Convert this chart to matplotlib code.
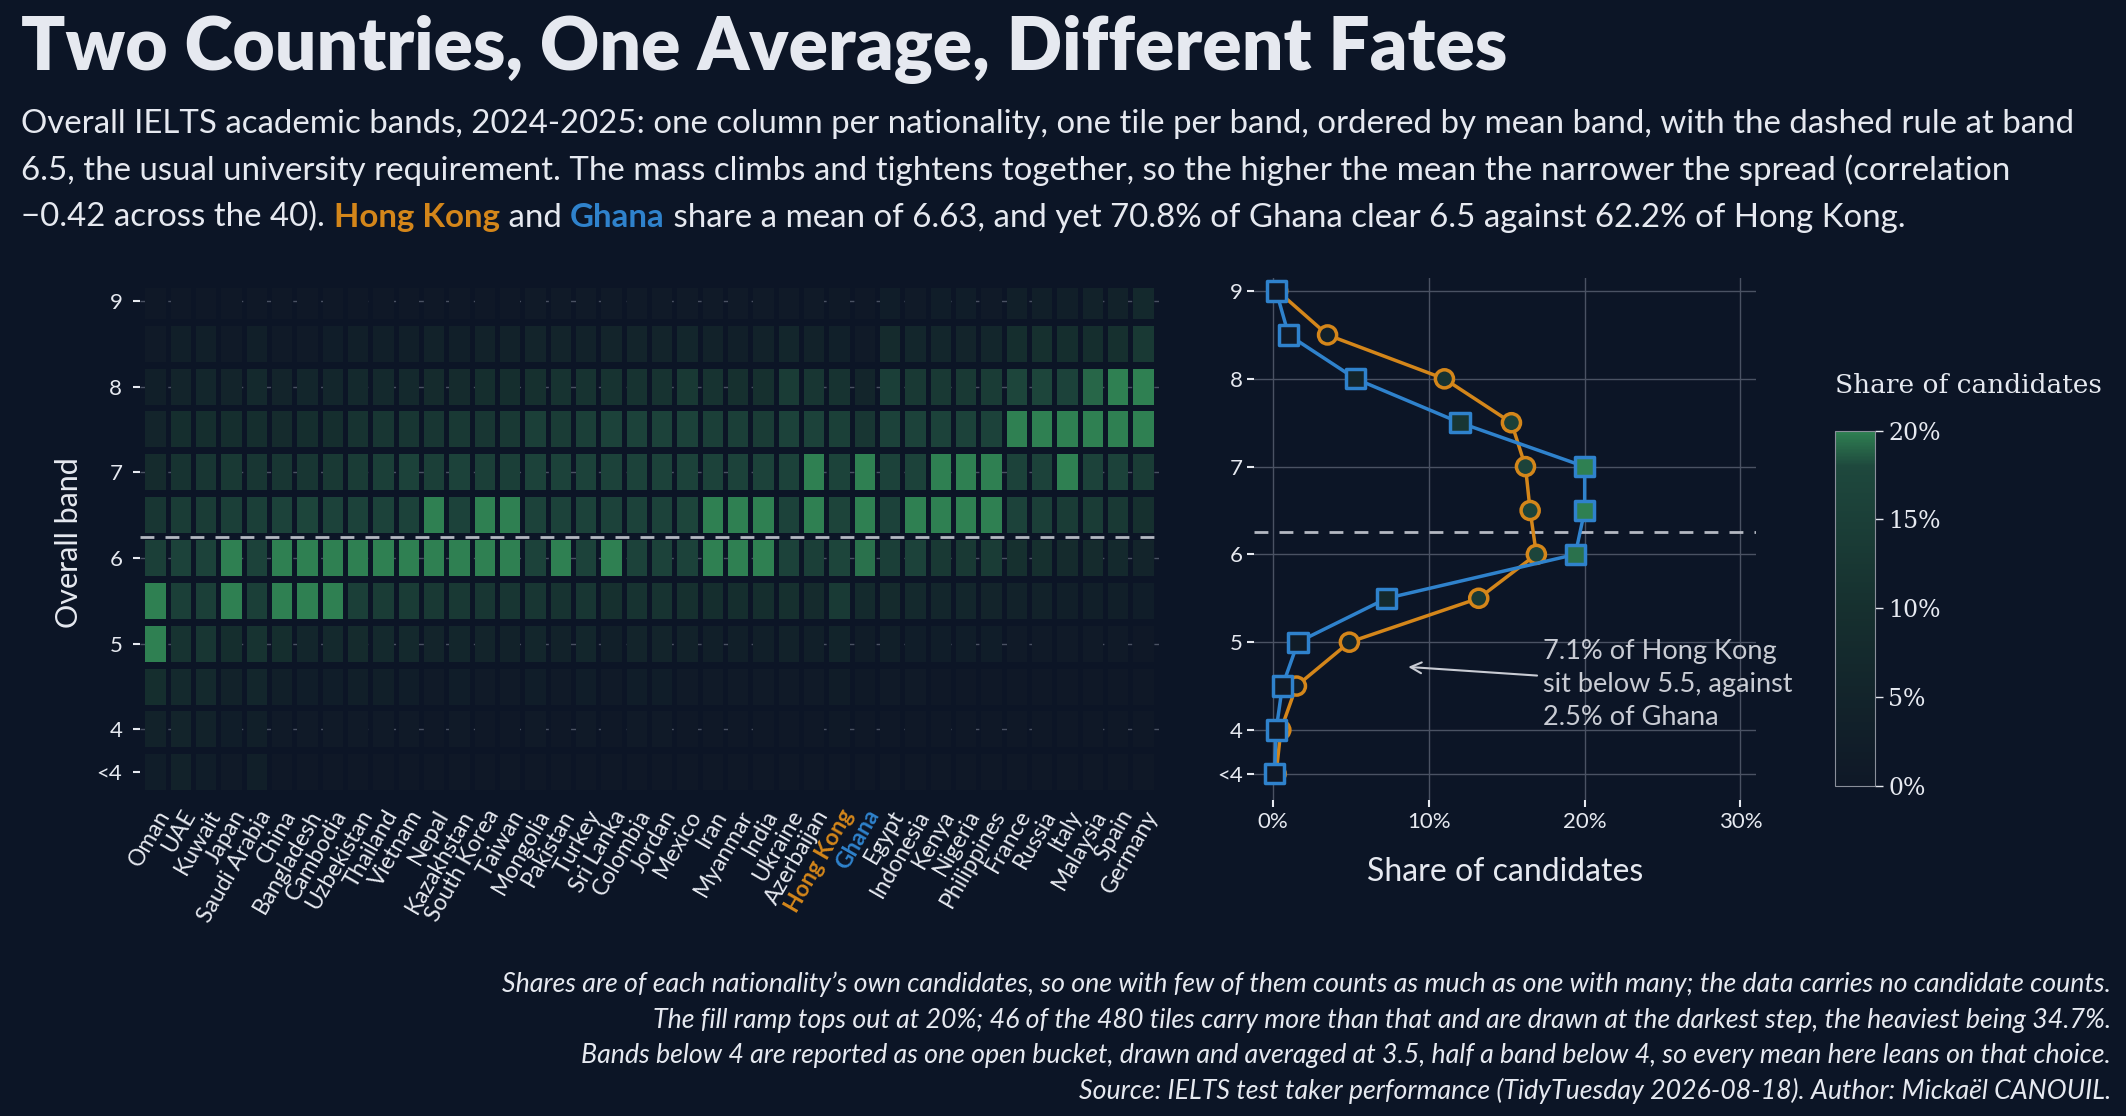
import numpy as np
import matplotlib.pyplot as plt
from matplotlib.colors import LinearSegmentedColormap, Normalize
from matplotlib.cm import ScalarMappable

plt.rcParams['font.family'] = ['Lato', 'DejaVu Sans']

BG = '#0c1526'
FG = '#e6e9f0'
ORANGE = '#d4861a'
BLUE = '#2f82cc'

bands = [3.5, 4, 4.5, 5, 5.5, 6, 6.5, 7, 7.5, 8, 8.5, 9]
countries = ['Oman', 'UAE', 'Kuwait', 'Japan', 'Saudi Arabia', 'China', 'Bangladesh', 'Cambodia',
             'Uzbekistan', 'Thailand', 'Vietnam', 'Nepal', 'Kazakhstan', 'South Korea', 'Taiwan',
             'Mongolia', 'Pakistan', 'Turkey', 'Sri Lanka', 'Colombia', 'Jordan', 'Mexico', 'Iran',
             'Myanmar', 'India', 'Ukraine', 'Azerbaijan', 'Hong Kong', 'Ghana', 'Egypt', 'Indonesia',
             'Kenya', 'Nigeria', 'Philippines', 'France', 'Russia', 'Italy', 'Malaysia', 'Spain', 'Germany']

# share (%) per band, order as in bands
shares = [
    [2, 4, 9, 20, 21, 15, 12, 8, 5, 3, 1, 0],
    [4, 5, 7, 11, 15, 16, 14, 11, 9, 5, 3, 0],
    [2, 4, 7, 12, 15, 16, 14, 12, 9, 6, 3, 0],
    [1, 2, 4, 9, 20, 21, 15, 13, 9, 5, 1, 0],
    [3, 3, 6, 11, 15, 16, 15, 12, 9, 7, 3, 0],
    [0, 1, 3, 9, 21, 24, 16, 12, 8, 5, 1, 0],
    [0, 1, 2, 6, 21, 25, 17, 12, 9, 6, 1, 0],
    [0, 1, 2, 7, 21, 23, 16, 13, 9, 6, 2, 0],
    [0, 1, 3, 8, 15, 22, 16, 14, 11, 7, 3, 0],
    [0, 1, 3, 7, 14, 22, 16, 15, 12, 7, 3, 0],
    [0, 1, 2, 7, 14, 22, 16, 16, 12, 7, 3, 0],
    [0, 0, 1, 5, 13, 21, 21, 15, 12, 8, 4, 0],
    [0, 1, 2, 6, 13, 22, 16, 16, 13, 8, 3, 0],
    [0, 0, 1, 5, 12, 21, 21, 15, 12, 9, 4, 0],
    [0, 0, 1, 4, 12, 21, 21, 15, 13, 9, 4, 0],
    [0, 1, 2, 6, 12, 16, 16, 16, 15, 10, 5, 1],
    [0, 0, 1, 4, 11, 21, 16, 16, 14, 11, 5, 1],
    [0, 1, 2, 6, 12, 16, 16, 16, 15, 11, 4, 1],
    [0, 0, 1, 3, 10, 21, 16, 16, 16, 11, 5, 1],
    [0, 1, 2, 5, 11, 16, 16, 16, 16, 11, 5, 1],
    [0, 1, 2, 5, 11, 16, 16, 16, 16, 11, 5, 1],
    [0, 0, 1, 4, 10, 16, 17, 16, 16, 13, 6, 1],
    [0, 0, 1, 3, 9, 20, 20, 16, 15, 11, 4, 1],
    [0, 0, 1, 3, 9, 21, 21, 16, 15, 10, 3, 1],
    [0, 0, 1, 3, 9, 21, 21, 16, 14, 10, 4, 1],
    [0, 0, 1, 4, 10, 16, 16, 16, 16, 14, 6, 1],
    [0, 0, 1, 3, 8, 15, 20, 20, 16, 12, 4, 1],
    [0.2, 0.5, 1.5, 4.9, 13.2, 16.9, 16.5, 16.2, 15.3, 11.0, 3.5, 0.3],
    [0.1, 0.2, 0.6, 1.6, 7.3, 19.4, 26.2, 26.1, 12.0, 5.3, 1.0, 0.2],
    [0, 0, 1, 3, 8, 15, 16, 16, 16, 15, 8, 2],
    [0, 0, 1, 2, 7, 16, 22, 16, 16, 13, 6, 1],
    [0, 0, 0, 2, 6, 13, 21, 21, 16, 13, 6, 2],
    [0, 0, 0, 2, 6, 13, 21, 22, 16, 13, 5, 2],
    [0, 0, 0, 2, 5, 14, 21, 21, 16, 14, 6, 1],
    [0, 0, 0, 1, 4, 10, 16, 16, 24, 17, 9, 3],
    [0, 0, 0, 1, 4, 10, 15, 16, 24, 17, 10, 3],
    [0, 0, 0, 1, 3, 8, 14, 22, 24, 16, 9, 3],
    [0, 0, 0, 1, 3, 8, 14, 16, 26, 19, 9, 4],
    [0, 0, 0, 1, 3, 7, 13, 16, 26, 20, 10, 4],
    [0, 0, 0, 0, 2, 5, 10, 14, 25, 24, 13, 7],
]

hk = shares[countries.index('Hong Kong')]
gh = shares[countries.index('Ghana')]

cmap = LinearSegmentedColormap.from_list(
    'ramp', [(0, '#0f1827'), (0.5, '#16302f'), (0.9, '#1e483d'), (1, '#2f8052')])
norm = Normalize(0, 20)

fig = plt.figure(figsize=(21.26, 11.16), dpi=100, facecolor=BG)

# ---- heatmap
ax = fig.add_axes([0.066, 0.285, 0.479, 0.457], facecolor=BG)
for i, row in enumerate(shares):
    for b, v in zip(bands, row):
        ax.bar(i, 0.42, bottom=b - 0.21, width=0.8, color=cmap(norm(min(v, 20))), zorder=2)
for t in [4, 5, 6, 7, 8, 9]:
    ax.axhline(t, color='#4a5263', lw=1, ls=(0, (4, 6)), zorder=1)
ax.axhline(6.25, color='#b4b8c2', lw=2, ls=(0, (5, 4)), zorder=3)
ax.set_xlim(-0.6, 39.6)
ax.set_ylim(3.2, 9.15)
ax.set_yticks([3.5, 4, 5, 6, 7, 8, 9])
ax.set_yticklabels(['<4', '4', '5', '6', '7', '8', '9'])
ax.set_xticks(range(len(countries)))
ax.set_xticklabels(countries, rotation=60, ha='right', rotation_mode='anchor')
ax.tick_params(axis='x', colors=FG, labelsize=16.5, length=0, pad=6)
ax.tick_params(axis='y', colors=FG, labelsize=16, length=5, width=1.5, pad=8)
for lab in ax.get_xticklabels():
    if lab.get_text() == 'Hong Kong':
        lab.set_color(ORANGE)
        lab.set_fontweight('bold')
    elif lab.get_text() == 'Ghana':
        lab.set_color(BLUE)
        lab.set_fontweight('bold')
ax.set_ylabel('Overall band', color=FG, fontsize=22, labelpad=10)
for s in ax.spines.values():
    s.set_visible(False)

# ---- profile
ax2 = fig.add_axes([0.590, 0.283, 0.236, 0.468], facecolor=BG)
hk_x = np.minimum(hk, 20) / 100
gh_x = np.minimum(gh, 20) / 100
ax2.plot(hk_x, bands, color=ORANGE, lw=2.5, zorder=3)
ax2.scatter(hk_x, bands, s=170, marker='o', c=[cmap(norm(min(v, 20))) for v in hk],
            edgecolors=ORANGE, linewidths=2.5, zorder=4)
ax2.plot(gh_x, bands, color=BLUE, lw=2.5, zorder=5)
ax2.scatter(gh_x, bands, s=190, marker='s', c=[cmap(norm(min(v, 20))) for v in gh],
            edgecolors=BLUE, linewidths=2.5, zorder=6)
ax2.axhline(6.25, color='#b4b8c2', lw=2, ls=(0, (5, 4)), zorder=2)
ax2.grid(True, color='#4a5263', lw=1, zorder=0)
ax2.set_xlim(-0.012, 0.31)
ax2.set_ylim(3.2, 9.15)
ax2.set_xticks([0, 0.1, 0.2, 0.3])
ax2.set_xticklabels(['0%', '10%', '20%', '30%'])
ax2.set_yticks([3.5, 4, 5, 6, 7, 8, 9])
ax2.set_yticklabels(['<4', '4', '5', '6', '7', '8', '9'])
ax2.tick_params(colors=FG, labelsize=16, length=5, width=1.5)
ax2.set_xlabel('Share of candidates', color=FG, fontsize=23, labelpad=18)
for s in ax2.spines.values():
    s.set_visible(False)
ax2.annotate('7.1% of Hong Kong\nsit below 5.5, against\n2.5% of Ghana',
             xy=(0.085, 4.72), xytext=(0.173, 4.52), color='#c9ccd4', fontsize=19.5,
             va='center', ha='left', linespacing=1.4,
             arrowprops=dict(arrowstyle='->', color='#c9ccd4', lw=1.5, shrinkB=2))

# ---- colorbar
cax = fig.add_axes([0.863, 0.296, 0.019, 0.318])
cb = fig.colorbar(ScalarMappable(norm=norm, cmap=cmap), cax=cax)
cb.set_ticks([0, 5, 10, 15, 20])
cb.set_ticklabels(['0%', '5%', '10%', '15%', '20%'])
cb.outline.set_edgecolor('#8a8f9a')
cax.tick_params(colors=FG, labelsize=17, length=6, width=1)
for lab in cax.get_yticklabels():
    lab.set_family('DejaVu Serif')
fig.text(0.863, 0.643, 'Share of candidates', color=FG, fontsize=19, family='DejaVu Serif',
         ha='left', va='bottom')

# ---- titles
fig.text(0.010, 0.937, 'Two Countries, One Average, Different Fates', color=FG, fontsize=52.6,
         fontweight='heavy', ha='left', va='baseline')
sub_size = 23.8
fig.text(0.010, 0.881, 'Overall IELTS academic bands, 2024-2025: one column per nationality, one tile per band, '
         'ordered by mean band, with the dashed rule at band', color=FG, fontsize=sub_size, va='baseline')
fig.text(0.010, 0.839, '6.5, the usual university requirement. The mass climbs and tightens together, so the higher '
         'the mean the narrower the spread (correlation', color=FG, fontsize=sub_size, va='baseline')
pieces = [('\u22120.42 across the 40). ', FG, 'normal'), ('Hong Kong', ORANGE, 'bold'), (' and ', FG, 'normal'),
          ('Ghana', BLUE, 'bold'),
          (' share a mean of 6.63, and yet 70.8% of Ghana clear 6.5 against 62.2% of Hong Kong.', FG, 'normal')]
renderer = fig.canvas.get_renderer()
x = 0.010
for txt, col, wt in pieces:
    t = fig.text(x, 0.797, txt, color=col, fontsize=sub_size, fontweight=wt, va='baseline')
    bb = t.get_window_extent(renderer=renderer)
    x += bb.width / fig.bbox.width

notes = ['Shares are of each nationality\u2019s own candidates, so one with few of them counts as much as one with many; the data carries no candidate counts.',
         'The fill ramp tops out at 20%; 46 of the 480 tiles carry more than that and are drawn at the darkest step, the heaviest being 34.7%.',
         'Bands below 4 are reported as one open bucket, drawn and averaged at 3.5, half a band below 4, so every mean here leans on that choice.',
         'Source: IELTS test taker performance (TidyTuesday 2026-08-18). Author: Micka\u00ebl CANOUIL.']
for k, n in enumerate(notes):
    fig.text(0.993, 0.111 - k * 0.0318, n, color=FG, fontsize=19.3, style='italic', ha='right', va='baseline')

fig.savefig('out.png', dpi=100, facecolor=BG)
